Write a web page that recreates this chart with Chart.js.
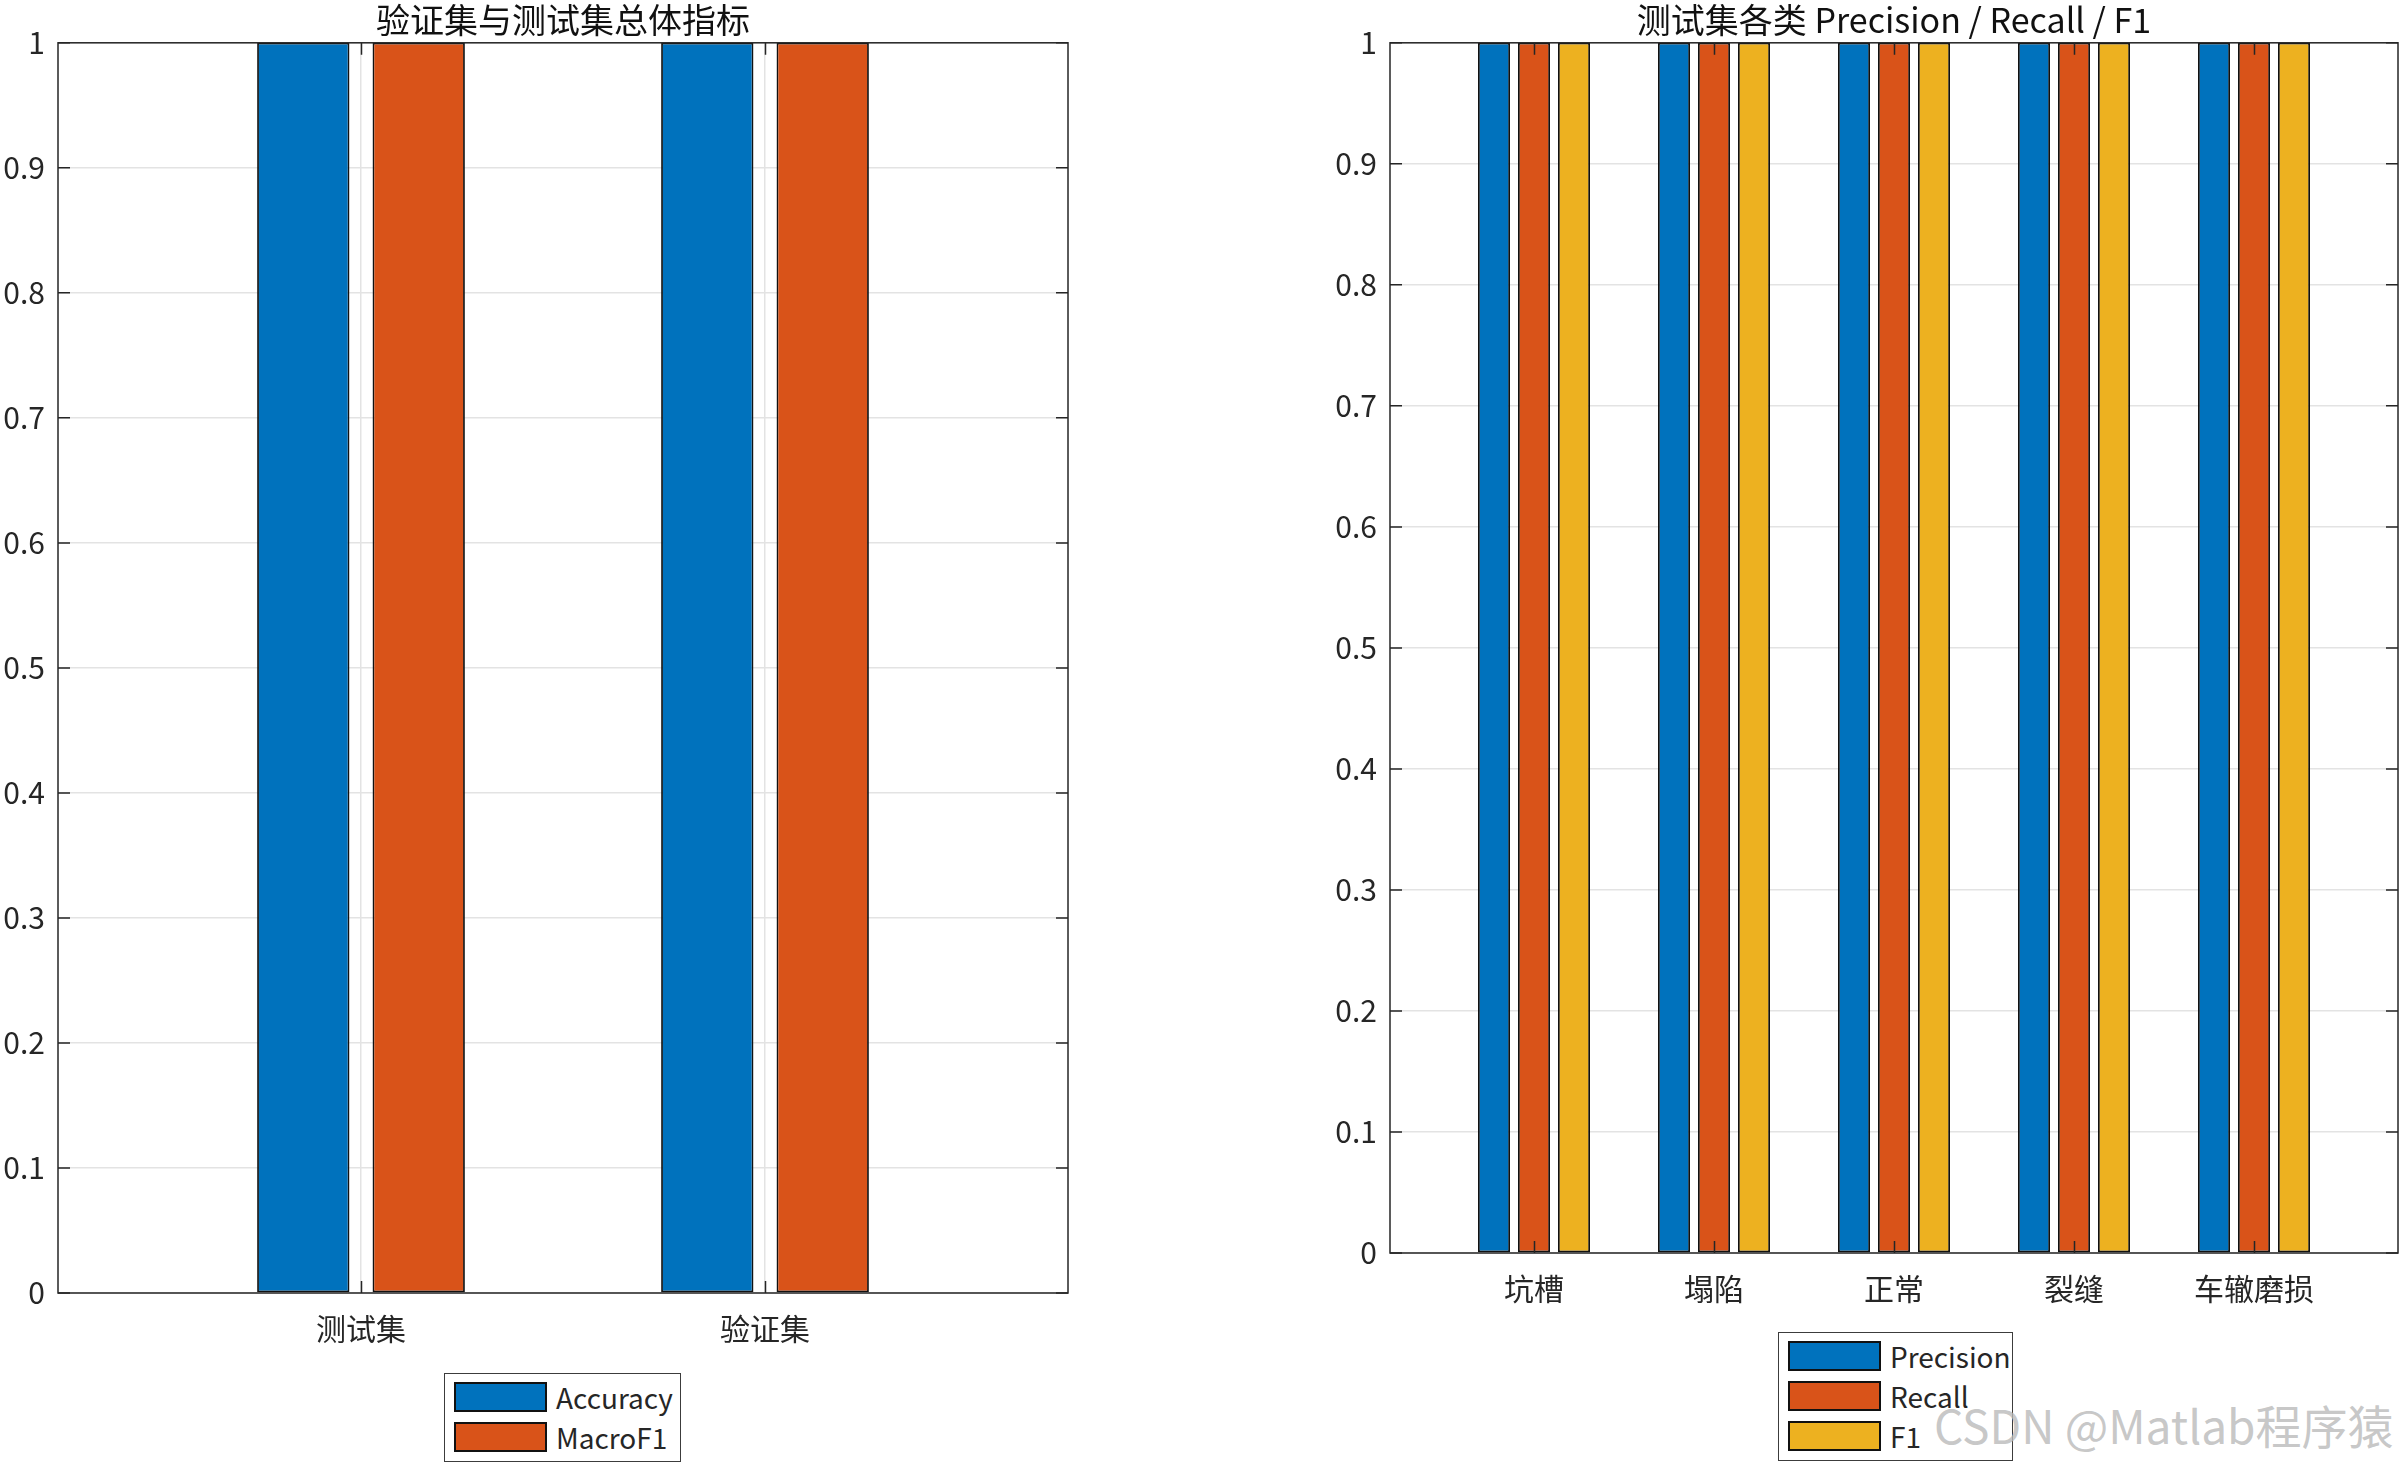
<!DOCTYPE html>
<html>
<head>
<meta charset="utf-8">
<script src="https://cdn.jsdelivr.net/npm/chart.js@4.4.1/dist/chart.umd.min.js"></script>
<style>
  html, body { margin: 0; padding: 0; background: #fff; }
  body { width: 2404px; height: 1466px; position: relative; overflow: hidden;
    font-family: "Noto Sans CJK SC", "Noto Sans", sans-serif; }
  .panel { position: absolute; }
  .legend { position: absolute; background: #fff; border: 1.5px solid #3c3c3c; box-sizing: border-box;
    padding: 8px 0 0 9px; }
  .legend-row { display: flex; align-items: flex-start; height: 40px; }
  .legend-row .swatch { width: 93px; height: 30px; box-sizing: border-box; border: 2px solid #111; }
  .legend-row span { margin-left: 9px; font-size: 28px; color: #262626; line-height: 30px; }
  .watermark { position: absolute; left: 1934px; top: 1391px; font-size: 46px; color: rgba(185,185,185,0.8);
    white-space: nowrap; }
</style>
</head>
<body>
<div class="panel" style="left:0;top:0;width:1100px;height:1370px"><canvas id="overallChart"></canvas></div>
<div class="panel" style="left:1300px;top:0;width:1104px;height:1330px"><canvas id="classChart"></canvas></div>
<div class="legend" id="overallLegend" style="left:444px;top:1373px;width:237px;height:89px"></div>
<div class="legend" id="classLegend" style="left:1778px;top:1332px;width:235px;height:129px"></div>
<div class="watermark">CSDN @Matlab程序猿</div>
<script>
const overallCategories = ['测试集', '验证集']
const accuracyValues = [1, 1]
const macroF1Values = [1, 1]

const classNames = ['坑槽', '塌陷', '正常', '裂缝', '车辙磨损']
const precisionValues = [1, 1, 1, 1, 1]
const recallValues = [1, 1, 1, 1, 1]
const f1Values = [1, 1, 1, 1, 1]

const yTickValues = [0, 0.1, 0.2, 0.3, 0.4, 0.5, 0.6, 0.7, 0.8, 0.9, 1]

const BLUE = '#0072BD'
const ORANGE = '#D95319'
const YELLOW = '#EDB120'
const AXIS_COLOR = '#262626'
const GRID_COLOR = '#e3e3e3'
const TICK_LEN = 12
const FONT = '"Noto Sans CJK SC", "Noto Sans", sans-serif'

Chart.defaults.font.family = FONT
Chart.defaults.color = AXIS_COLOR

// MATLAB style box with inward ticks on all four sides, drawn over the bars
const matlabBox = {
  id: 'matlabBox',
  afterDatasetsDraw(chart) {
    const { ctx, chartArea: a, scales: { x, y } } = chart
    ctx.save()
    ctx.strokeStyle = AXIS_COLOR
    ctx.lineWidth = 1.5
    ctx.beginPath()
    x.ticks.forEach((t) => {
      const px = Math.round(x.getPixelForValue(t.value)) + 0.5
      ctx.moveTo(px, a.bottom)
      ctx.lineTo(px, a.bottom - TICK_LEN)
      ctx.moveTo(px, a.top)
      ctx.lineTo(px, a.top + TICK_LEN)
    })
    y.ticks.forEach((t) => {
      const py = y.getPixelForValue(t.value)
      ctx.moveTo(a.left, py)
      ctx.lineTo(a.left + TICK_LEN, py)
      ctx.moveTo(a.right, py)
      ctx.lineTo(a.right - TICK_LEN, py)
    })
    ctx.stroke()
    ctx.strokeRect(a.left, a.top, a.right - a.left, a.bottom - a.top)
    ctx.restore()
  },
}

const toPoints = (values) => values.map((v, i) => ({ x: i + 1, y: v }))

const makeChart = (canvasId, { title, categories, datasets, xMin, xMax, yAxisWidth, xAxisHeight, padRight }) =>
  new Chart(document.getElementById(canvasId), {
    type: 'bar',
    data: {
      datasets: datasets.map((d) => ({
        label: d.label,
        data: toPoints(d.values),
        backgroundColor: d.color,
        borderColor: '#111',
        borderWidth: 1.8,
        borderSkipped: false,
        categoryPercentage: datasets.length / (datasets.length + 1.5),
        barPercentage: 0.8,
      })),
    },
    options: {
      responsive: true,
      maintainAspectRatio: false,
      animation: false,
      layout: { padding: { left: 0, right: padRight, top: 0, bottom: 0 } },
      plugins: {
        legend: { display: false },
        tooltip: { enabled: false },
        title: {
          display: true,
          fullSize: false,
          text: title,
          color: '#111',
          font: { size: 34, weight: 'normal' },
          padding: { top: 0, bottom: 2 },
        },
      },
      scales: {
        x: {
          type: 'linear',
          min: xMin,
          max: xMax,
          offset: false,
          afterBuildTicks: (s) => { s.ticks = categories.map((_, i) => ({ value: i + 1 })) },
          afterFit: (s) => { s.height = xAxisHeight },
          grid: { offset: false, drawTicks: false, color: GRID_COLOR, lineWidth: 1.5 },
          border: { display: false },
          ticks: {
            padding: 18,
            maxRotation: 0,
            autoSkip: false,
            color: AXIS_COLOR,
            font: { size: 30 },
            callback: (v) => categories[v - 1],
          },
        },
        y: {
          min: 0,
          max: 1,
          afterBuildTicks: (s) => { s.ticks = yTickValues.map((v) => ({ value: v })) },
          afterFit: (s) => { s.width = yAxisWidth },
          grid: { drawTicks: false, color: GRID_COLOR, lineWidth: 1.5 },
          border: { display: false },
          ticks: {
            padding: 13,
            color: AXIS_COLOR,
            font: { size: 30 },
            callback: (v) => String(v),
          },
        },
      },
    },
    plugins: [matlabBox],
  })

const fillLegend = (chart, el) => {
  el.innerHTML = chart.data.datasets
    .map((d) => `<div class="legend-row"><div class="swatch" style="background:${d.backgroundColor}"></div><span>${d.label}</span></div>`)
    .join('')
}

const overallChart = makeChart('overallChart', {
  title: '验证集与测试集总体指标',
  categories: overallCategories,
  datasets: [
    { label: 'Accuracy', values: accuracyValues, color: BLUE },
    { label: 'MacroF1', values: macroF1Values, color: ORANGE },
  ],
  xMin: 0.25,
  xMax: 2.75,
  yAxisWidth: 58,
  xAxisHeight: 77,
  padRight: 32,
})

const classChart = makeChart('classChart', {
  title: '测试集各类 Precision / Recall / F1',
  categories: classNames,
  datasets: [
    { label: 'Precision', values: precisionValues, color: BLUE },
    { label: 'Recall', values: recallValues, color: ORANGE },
    { label: 'F1', values: f1Values, color: YELLOW },
  ],
  xMin: 0.2,
  xMax: 5.8,
  yAxisWidth: 90,
  xAxisHeight: 77,
  padRight: 6,
})

fillLegend(overallChart, document.getElementById('overallLegend'))
fillLegend(classChart, document.getElementById('classLegend'))
</script>
</body>
</html>
